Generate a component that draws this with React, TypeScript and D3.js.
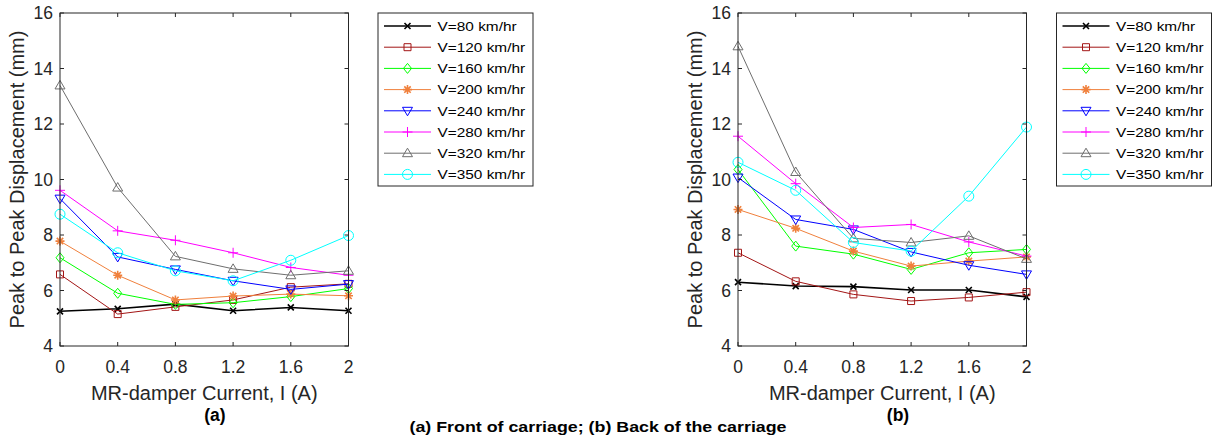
import React from 'react';
import * as d3 from 'd3';

// x values (MR-damper current, A)
const current = [0, 0.4, 0.8, 1.2, 1.6, 2];
const xTicks = [0, 0.4, 0.8, 1.2, 1.6, 2];
const yTicks = [4, 6, 8, 10, 12, 14, 16];

const speedLabels = [
  'V=80 km/hr', 'V=120 km/hr', 'V=160 km/hr', 'V=200 km/hr',
  'V=240 km/hr', 'V=280 km/hr', 'V=320 km/hr', 'V=350 km/hr',
];

// (a) front of carriage
const front80 = [5.25, 5.34, 5.51, 5.27, 5.39, 5.27];
const front120 = [6.58, 5.15, 5.41, 5.66, 6.12, 6.24];
const front160 = [7.18, 5.9, 5.5, 5.56, 5.78, 6.07];
const front200 = [7.78, 6.55, 5.66, 5.8, 5.87, 5.81];
const front240 = [9.31, 7.21, 6.76, 6.35, 6.04, 6.23];
const front280 = [9.61, 8.15, 7.81, 7.36, 6.83, 6.55];
const front320 = [13.39, 9.71, 7.23, 6.78, 6.55, 6.71];
const front350 = [8.75, 7.36, 6.71, 6.35, 7.09, 7.98];

// (b) back of carriage
const back80 = [6.3, 6.16, 6.14, 6.02, 6.02, 5.77];
const back120 = [7.36, 6.33, 5.86, 5.62, 5.75, 5.94];
const back160 = [10.36, 7.6, 7.31, 6.76, 7.36, 7.48];
const back200 = [8.92, 8.24, 7.42, 6.88, 7.06, 7.21];
const back240 = [10.07, 8.56, 8.2, 7.39, 6.91, 6.58];
const back280 = [11.56, 9.85, 8.27, 8.38, 7.75, 7.24];
const back320 = [14.8, 10.27, 7.88, 7.73, 7.97, 7.14];
const back350 = [10.62, 9.61, 7.73, 7.42, 9.4, 11.89];

const frontSeries = [front80, front120, front160, front200, front240, front280, front320, front350];
const backSeries = [back80, back120, back160, back200, back240, back280, back320, back350];

const colors = ['#000000', '#a31515', '#00ff00', '#f0803c', '#0000ff', '#ff00ff', '#6e6e6e', '#00ffff'];
const markers = ['x', 'square', 'diamond', 'asterisk', 'triDown', 'plus', 'triUp', 'circle'];

const FONT = '"Liberation Sans", Arial, Helvetica, sans-serif';
const AXIS = '#262626';

const W = 1216;
const H = 441;
const top = 13;
const bottom = 346;

// marker glyph paths centred on 0,0
const markerPath = (m: string) => {
  switch (m) {
    case 'x': return 'M-3,-3L3,3M-3,3L3,-3';
    case 'square': return 'M-3.5,-3.5H3.5V3.5H-3.5Z';
    case 'diamond': return 'M0,-5L4,0L0,5L-4,0Z';
    case 'asterisk': return 'M-4.5,0H4.5M0,-4.5V4.5M-3.2,-3.2L3.2,3.2M-3.2,3.2L3.2,-3.2';
    case 'triDown': return 'M-5,-3.5L5,-3.5L0,5Z';
    case 'plus': return 'M-5,0H5M0,-5V5';
    case 'triUp': return 'M0,-5L5,3.5L-5,3.5Z';
    case 'circle': return 'M5,0A5,5 0 1,1 -5,0A5,5 0 1,1 5,0Z';
    default: return '';
  }
};

const Marker = ({ x, y, m, color }: any) => (
  <path
    transform={`translate(${x},${y})`}
    d={markerPath(m)}
    fill="none"
    stroke={color}
    strokeWidth={m === 'x' || m === 'asterisk' ? 1.6 : 1}
  />
);

const Panel = ({ left, right, series, tag, tagX, legendX }: any) => {
  const x = d3.scaleLinear().domain([0, 2]).range([left, right]);
  const y = d3.scaleLinear().domain([4, 16]).range([bottom, top]);
  const line = d3.line<number>().x((_, i) => x(current[i])).y(d => y(d));
  const tick = 4;

  return (
    <g fontFamily={FONT}>
      {/* series */}
      {series.map((vals: number[], s: number) => (
        <g key={s}>
          <path d={line(vals) || ''} fill="none" stroke={colors[s]} strokeWidth={s === 0 ? 1.6 : 1} />
          {vals.map((v, i) => (
            <Marker key={i} x={x(current[i])} y={y(v)} m={markers[s]} color={colors[s]} />
          ))}
        </g>
      ))}

      {/* axes box and ticks */}
      <rect x={left} y={top} width={right - left} height={bottom - top} fill="none" stroke={AXIS} strokeWidth={1} />
      {xTicks.map(t => (
        <g key={'x' + t}>
          <line x1={x(t)} x2={x(t)} y1={bottom} y2={bottom - tick} stroke={AXIS} />
          <line x1={x(t)} x2={x(t)} y1={top} y2={top + tick} stroke={AXIS} />
          <text x={x(t)} y={372.5} textAnchor="middle" fontSize={17.5} fill={AXIS}>{String(t)}</text>
        </g>
      ))}
      {yTicks.map(t => (
        <g key={'y' + t}>
          <line x1={left} x2={left + tick} y1={y(t)} y2={y(t)} stroke={AXIS} />
          <line x1={right} x2={right - tick} y1={y(t)} y2={y(t)} stroke={AXIS} />
          <text x={left - 7} y={y(t)} dy="0.35em" textAnchor="end" fontSize={17.5} fill={AXIS}>{String(t)}</text>
        </g>
      ))}

      {/* axis labels */}
      <text x={(left + right) / 2} y={400} textAnchor="middle" fontSize={20} fill={AXIS}>MR-damper Current, I (A)</text>
      <text
        transform={`translate(${left - 36},${(top + bottom) / 2}) rotate(-90)`}
        textAnchor="middle"
        fontSize={20}
        fill={AXIS}
      >Peak to Peak Displacement (mm)</text>
      <text x={tagX} y={421} textAnchor="middle" fontSize={17.5} fontWeight="bold" fill="#000">{tag}</text>

      {/* legend */}
      <rect x={legendX} y={13} width={155} height={173} fill="#fff" stroke={AXIS} strokeWidth={1} />
      {speedLabels.map((lab, s) => {
        const ly = 26 + s * 21.2;
        return (
          <g key={lab}>
            <line x1={legendX + 6} x2={legendX + 53} y1={ly} y2={ly} stroke={colors[s]} strokeWidth={s === 0 ? 1.6 : 1} />
            <Marker x={legendX + 29.5} y={ly} m={markers[s]} color={colors[s]} />
            <g transform={`translate(${legendX + 59.5},${ly}) scale(1.14,1)`}>
              <text x={0} y={0} dy="0.35em" fontSize={13.5} fill="#000">{lab}</text>
            </g>
          </g>
        );
      })}
    </g>
  );
};

export default function App() {
  return (
    <svg
      width={W}
      height={H}
      viewBox={`0 0 ${W} ${H}`}
      style={{ position: 'absolute', left: 0, top: 0, background: '#fff' }}
    >
      <rect width={W} height={H} fill="#fff" />
      <Panel left={60} right={348.5} series={frontSeries} tag="(a)" tagX={215} legendX={378} />
      <Panel left={738} right={1026.5} series={backSeries} tag="(b)" tagX={898} legendX={1056.5} />
      <g transform={`translate(598,432) scale(1.15,1)`}>
        <text x={0} y={0} textAnchor="middle" fontFamily={FONT} fontSize={15.5} fontWeight="bold" fill="#000">
          (a) Front of carriage; (b) Back of the carriage
        </text>
      </g>
    </svg>
  );
}
